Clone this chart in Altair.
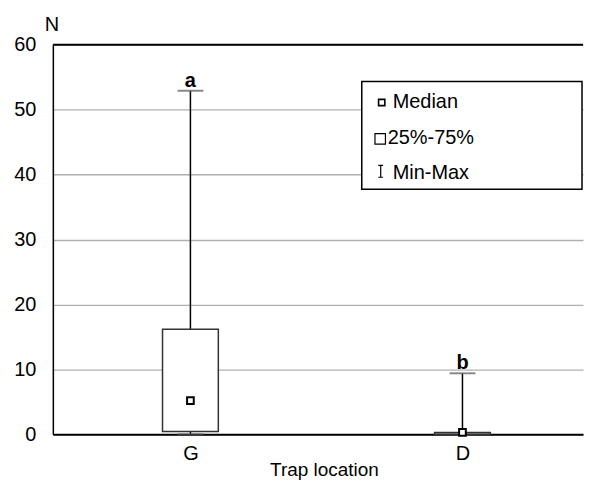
import altair as alt
import pandas as pd

categories = ["G", "D"]
mins = [0.0, 0.0]
q1s = [0.45, 0.0]
medians = [5.2, 0.3]
q3s = [16.2, 0.3]
maxs = [52.9, 9.4]
letters = ["a", "b"]

legend_labels = ["Median", "25%-75%", "Min-Max"]

FONT = "Liberation Sans"
FS = 20
W = 532

df = pd.DataFrame({
    "cat": categories, "min": mins, "q1": q1s, "median": medians,
    "q3": q3s, "max": maxs, "letter": letters,
})

xscale = alt.Scale(type="point", domain=categories, padding=0.4744, align=0.533)
xenc = alt.X(
    "cat:N", title="Trap location", scale=xscale,
    axis=alt.Axis(labelAngle=0, ticks=False, labelPadding=9, labelFontSize=FS,
                  titleFontSize=19, titlePadding=-3, titleFontWeight="normal",
                  titleX=272, titleAlign="center",
                  domainColor="black", domainWidth=2, grid=False,
                  labelColor="black", titleColor="black"),
)
yscale = alt.Scale(domain=[0, 60], nice=False)
yaxis = alt.Axis(values=[0, 10, 20, 30, 40, 50, 60], ticks=False, labelPadding=17,
                 labelFontSize=FS, grid=True, gridColor="#b0b0b0", gridWidth=1.3,
                 domainColor="black", domainWidth=1.5, labelColor="black",
                 title="N", titleAngle=0, titleX=-1.5, titleY=-14, titleAlign="center",
                 titleBaseline="alphabetic", titleFontSize=FS, titleFontWeight="normal",
                 titleColor="black")

base = alt.Chart(df)
xs = alt.X("cat:N", scale=xscale)

whisker = base.mark_rule(color="black", strokeWidth=1.5).encode(
    x=xenc, y=alt.Y("min:Q", scale=yscale, axis=yaxis), y2="max:Q")
cap_max = base.mark_tick(size=26, thickness=2, color="#555555").encode(
    x=xs, y="max:Q")
cap_min = base.mark_tick(size=26, thickness=2, color="#555555").encode(
    x=xs, y="min:Q")
box = base.mark_bar(size=56, fill="white", stroke="#333333", strokeWidth=1.5).encode(
    x=xs, y="q1:Q", y2="q3:Q")
med = base.mark_point(shape="square", size=45, fill="white", stroke="black",
                      strokeWidth=2, opacity=1).encode(x=xs, y="median:Q")
lett = base.mark_text(dy=-4, fontSize=FS, fontWeight="bold", baseline="alphabetic",
                      font=FONT, color="black").encode(x=xs, y="max:Q", text="letter:N")

one = pd.DataFrame({"k": [0]})
# top frame line (plot area runs off the right edge, as in the reference)
top_line = alt.Chart(one).mark_rule(color="black", strokeWidth=2).encode(
    x=alt.value(0), x2=alt.value(W), y=alt.value(0))

# legend (decoration, pixel positioned)
leg_box = alt.Chart(one).mark_rect(
    fill="white", stroke="black", strokeWidth=1.5).encode(
    x=alt.value(310), x2=alt.value(531), y=alt.value(37), y2=alt.value(145))
leg_med = alt.Chart(one).mark_point(
    shape="square", size=40, fill="white", stroke="black", strokeWidth=1.6, opacity=1).encode(
    x=alt.value(330), y=alt.value(58))
leg_box_sym = alt.Chart(one).mark_point(
    shape="square", size=110, fill="white", stroke="black", strokeWidth=1.2, opacity=1).encode(
    x=alt.value(328.5), y=alt.value(94.5))
leg_minmax = alt.Chart(one).mark_point(
    shape="M-0.4,-1H0.4M0,-1V1M-0.4,1H0.4", size=144, fill=None, stroke="black",
    strokeWidth=1.2, opacity=1).encode(x=alt.value(329), y=alt.value(127))
leg_t1 = alt.Chart(pd.DataFrame({"t": [legend_labels[0]]})).mark_text(
    align="left", baseline="alphabetic", fontSize=FS, font=FONT, color="black").encode(
    x=alt.value(341), y=alt.value(64), text="t:N")
leg_t2 = alt.Chart(pd.DataFrame({"t": [legend_labels[1]]})).mark_text(
    align="left", baseline="alphabetic", fontSize=FS, font=FONT, color="black").encode(
    x=alt.value(336), y=alt.value(100), text="t:N")
leg_t3 = alt.Chart(pd.DataFrame({"t": [legend_labels[2]]})).mark_text(
    align="left", baseline="alphabetic", fontSize=FS, font=FONT, color="black").encode(
    x=alt.value(341), y=alt.value(135), text="t:N")

chart = alt.layer(
    whisker, cap_min, cap_max, box, med, lett, top_line,
    leg_box, leg_med, leg_box_sym, leg_minmax, leg_t1, leg_t2, leg_t3,
).properties(
    width=W, height=391,
    padding={"top": 6, "left": 5, "right": 0, "bottom": 5},
).configure(font=FONT).configure_view(strokeWidth=0)

chart.save("out.html", embed_options={"renderer": "svg", "actions": False})
